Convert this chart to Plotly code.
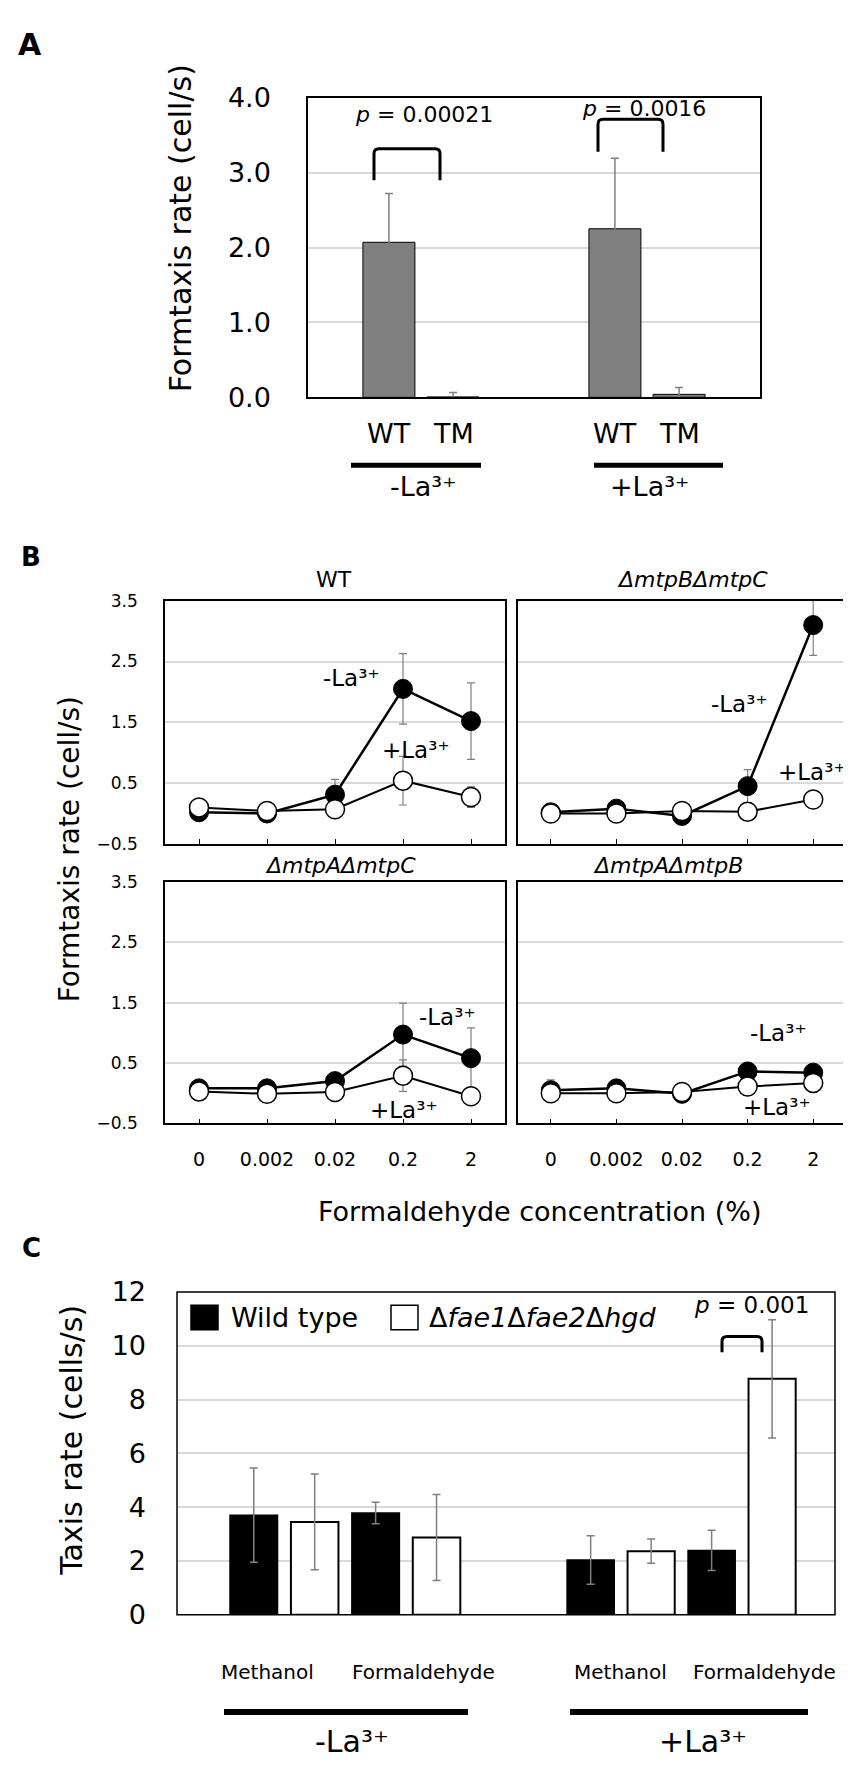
import plotly.graph_objects as go

W, H = 851, 1770


def px(x):
    return x / W


def py(y):
    return 1 - y / H


# ---------------- data ----------------
# panel A: formtaxis rate (cell/s)
a_groups = ["-La", "+La"]
a_wt = [2.07, 2.25]
a_wt_err = [0.65, 0.94]
a_tm = [0.005, 0.04]
a_tm_err = [0.06, 0.09]

# panel B: formaldehyde concentration (%)
conc = ["0", "0.002", "0.02", "0.2", "2"]
strains = ["WT", "ΔmtpBΔmtpC", "ΔmtpAΔmtpC", "ΔmtpAΔmtpB"]
b_minus = [
    [0.02, 0.00, 0.31, 2.05, 1.52],
    [0.02, 0.08, -0.04, 0.45, 3.10],
    [0.08, 0.08, 0.20, 0.97, 0.58],
    [0.05, 0.08, -0.01, 0.36, 0.34],
]
b_minus_err = [
    [0.05, 0.08, 0.25, 0.58, 0.63],
    [0.03, 0.04, 0.03, 0.27, 0.50],
    [0.03, 0.03, 0.04, 0.52, 0.50],
    [0.17, 0.04, 0.03, 0.05, 0.04],
]
b_plus = [
    [0.10, 0.04, 0.07, 0.54, 0.27],
    [0.00, 0.00, 0.04, 0.03, 0.23],
    [0.03, -0.01, 0.02, 0.29, -0.05],
    [0.00, 0.00, 0.02, 0.11, 0.17],
]
b_plus_err = [
    [0.05, 0.05, 0.05, 0.40, 0.17],
    [0.02, 0.02, 0.03, 0.03, 0.05],
    [0.03, 0.03, 0.03, 0.26, 0.04],
    [0.02, 0.02, 0.02, 0.04, 0.04],
]

# panel C: taxis rate (cells/s)
c_subs = ["Methanol", "Formaldehyde"]
c_wt_minus = [3.70, 3.78]
c_wt_minus_err = [1.75, 0.40]
c_mut_minus = [3.45, 2.87]
c_mut_minus_err = [1.78, 1.60]
c_wt_plus = [2.03, 2.39]
c_wt_plus_err = [0.90, 0.75]
c_mut_plus = [2.36, 8.77]
c_mut_plus_err = [0.45, 2.20]

FONT = "DejaVu Sans"
GRID = "#d9d9d9"
ERR = "#7f7f7f"

fig = go.Figure()

# ---------------- panel A ----------------
a_w, a_off = 0.23, 0.142
for vals, errs, shift in [(a_wt, a_wt_err, -a_off), (a_tm, a_tm_err, a_off)]:
    fig.add_trace(go.Bar(
        x=a_groups, y=vals, width=a_w, offset=shift - a_w / 2,
        marker=dict(color="#808080", line=dict(color="black", width=1)),
        error_y=dict(type="data", array=errs, color=ERR, thickness=1.5, width=4),
        xaxis="x", yaxis="y", showlegend=False,
    ))

# ---------------- panel B ----------------
for i in range(4):
    ax = str(i + 2)
    fig.add_trace(go.Scatter(
        x=conc, y=b_minus[i], mode="lines+markers",
        line=dict(color="black", width=2.5),
        marker=dict(size=19, color="black", line=dict(color="black", width=1)),
        error_y=dict(type="data", array=b_minus_err[i], color=ERR, thickness=1.2, width=4),
        xaxis="x" + ax, yaxis="y" + ax, showlegend=False,
    ))
    fig.add_trace(go.Scatter(
        x=conc, y=b_plus[i], mode="lines+markers",
        line=dict(color="black", width=2),
        marker=dict(size=19, color="white", line=dict(color="black", width=1.5)),
        error_y=dict(type="data", array=b_plus_err[i], color=ERR, thickness=1.2, width=4),
        xaxis="x" + ax, yaxis="y" + ax, showlegend=False,
    ))

# ---------------- panel C ----------------
c_w, c_off = 0.39, 0.25
for ax, wt, wt_e, mut, mut_e in [("6", c_wt_minus, c_wt_minus_err, c_mut_minus, c_mut_minus_err),
                                 ("7", c_wt_plus, c_wt_plus_err, c_mut_plus, c_mut_plus_err)]:
    fig.add_trace(go.Bar(
        x=c_subs, y=wt, width=c_w, offset=-c_off - c_w / 2,
        marker=dict(color="black", line=dict(color="black", width=1.5)),
        error_y=dict(type="data", array=wt_e, color=ERR, thickness=1.5, width=4),
        xaxis="x" + ax, yaxis="y" + ax, showlegend=False,
    ))
    fig.add_trace(go.Bar(
        x=c_subs, y=mut, width=c_w, offset=c_off - c_w / 2,
        marker=dict(color="white", line=dict(color="black", width=2)),
        error_y=dict(type="data", array=mut_e, color=ERR, thickness=1.5, width=4),
        xaxis="x" + ax, yaxis="y" + ax, showlegend=False,
    ))

# ---------------- axes ----------------
def box_axis(**kw):
    d = dict(showline=True, mirror=True, linecolor="black", linewidth=1.5,
             zeroline=False, ticks="", fixedrange=True)
    d.update(kw)
    return d


layout_axes = {}
# panel A
layout_axes["xaxis"] = box_axis(domain=[px(300), px(752)], anchor="y", range=[-0.5, 1.5],
                                showticklabels=False, showgrid=False)
layout_axes["yaxis"] = box_axis(domain=[py(380), py(75)], anchor="x", range=[0, 4], dtick=1,
                                tickformat=".1f", showgrid=True, gridcolor=GRID, gridwidth=1.5,
                                tickfont=dict(size=27), ticklabelstandoff=30)
# panel B
b_x = [(157, 497), (510, 838), (157, 497), (510, 838)]
b_y = [(587, 834.5), (587, 834.5), (873, 1119), (873, 1119)]
for i in range(4):
    n = str(i + 2)
    layout_axes["xaxis" + n] = box_axis(
        domain=[px(b_x[i][0]), px(b_x[i][1])], anchor="y" + n, range=[-0.5, 4.5],
        showgrid=False, ticks="inside", ticklen=5, tickcolor="black",
        showticklabels=i >= 2, tickfont=dict(size=19), ticklabelstandoff=18)
    layout_axes["yaxis" + n] = box_axis(
        domain=[py(b_y[i][1]), py(b_y[i][0])], anchor="x" + n, range=[-0.5, 3.5],
        tickvals=[-0.5, 0.5, 1.5, 2.5, 3.5], showgrid=True, gridcolor=GRID, gridwidth=1.5,
        showticklabels=i in (0, 2), tickfont=dict(size=17), ticklabelstandoff=22)
# panel C
c_x = [(169, 498, [-0.88, 1.82]), (498, 827, [-0.95, 1.77])]
for j, (x0, x1, rng) in enumerate(c_x):
    n = str(j + 6)
    layout_axes["xaxis" + n] = box_axis(
        domain=[px(x0), px(x1)], anchor="y" + n, range=rng, showline=False,
        showgrid=False, showticklabels=False)
    layout_axes["yaxis" + n] = box_axis(
        domain=[py(1619), py(1290.6)], anchor="x" + n, range=[0, 12], dtick=2,
        showline=False, showgrid=True, gridcolor=GRID, gridwidth=1.5,
        showticklabels=j == 0, tickfont=dict(size=27), ticklabelstandoff=30)


# ---------------- annotations ----------------
def note(text, x, y, size, weight="normal", style="normal", **kw):
    d = dict(text=text, x=px(x), y=py(y), xref="paper", yref="paper", showarrow=False,
             font=dict(size=size, color="black", family=FONT, weight=weight, style=style),
             xanchor="center", yanchor="middle")
    d.update(kw)
    return d


la_minus = "-La³⁺"
la_plus = "+La³⁺"
notes = [
    note("A", 22, 21, 30, weight="bold"),
    note("B", 23, 542, 26, weight="bold"),
    note("C", 23, 1246, 26, weight="bold"),
    # panel A
    note("Formtaxis rate (cell/s)", 172, 208, 30, textangle=-90),
    note("<i>p</i> = 0.00021", 416, 92, 22),
    note("<i>p</i> = 0.0016", 636, 86, 22),
    note(la_minus, 415, 471, 27),
    note(la_plus, 641, 471, 27),
    # panel B
    note("Formtaxis rate (cell/s)", 61, 840, 28, textangle=-90),
    note("Formaldehyde concentration (%)", 532, 1209, 27),
    note(la_minus, 343, 666, 23), note(la_plus, 408, 739, 23),
    note(la_minus, 731, 692, 23), note(la_plus, 804, 761, 23),
    note(la_minus, 439, 1011, 23), note(la_plus, 396, 1105, 23),
    note(la_minus, 770, 1027, 23), note(la_plus, 769, 1102, 23),
    # panel C
    note("Taxis rate (cells/s)", 64, 1442, 30, textangle=-90),
    note("Wild type", 221, 1317, 27, xanchor="left"),
    note("Δ<i>fae1</i>Δ<i>fae2</i>Δ<i>hgd</i>", 419, 1317, 27, xanchor="left"),
    note("<i>p</i> = 0.001", 743, 1304, 23),
    note(la_minus, 344, 1748, 30),
    note(la_plus, 695, 1748, 30),
]

# WT / TM labels under panel A bars
for gi, g in enumerate(a_groups):
    for lab, shift in [("WT", -a_off), ("TM", a_off)]:
        notes.append(dict(text=lab, x=gi + shift, y=py(417), xref="x", yref="paper",
                          showarrow=False, font=dict(size=27, color="black", family=FONT),
                          xanchor="center", yanchor="middle"))

# panel B strain titles (mutants in italics)
b_titles = [(326, 565), (684, 565), (332, 857), (660, 857)]
for i, (tx, ty) in enumerate(b_titles):
    notes.append(note(strains[i], tx, ty, 22, style="normal" if i == 0 else "italic"))

# panel C category labels (placed as in the original, not centred on the pairs)
c_label_x = [(259, 415), (612, 756)]
for xs in c_label_x:
    for lab, lx in zip(c_subs, xs):
        notes.append(note(lab, lx, 1677, 20))


# ---------------- shapes ----------------
def bracket(x0, x1, ytop, ybot, r=5):
    path = (f"M{px(x0)},{py(ybot)} L{px(x0)},{py(ytop + r)} "
            f"Q{px(x0)},{py(ytop)} {px(x0 + r)},{py(ytop)} "
            f"L{px(x1 - r)},{py(ytop)} Q{px(x1)},{py(ytop)} {px(x1)},{py(ytop + r)} "
            f"L{px(x1)},{py(ybot)}")
    return dict(type="path", path=path, xref="paper", yref="paper",
                line=dict(color="black", width=3))


def hline(x0, x1, y, w):
    return dict(type="line", x0=px(x0), x1=px(x1), y0=py(y), y1=py(y),
                xref="paper", yref="paper", line=dict(color="black", width=w))


def rect(x0, x1, y0, y1, fill, w=1.5):
    return dict(type="rect", x0=px(x0), x1=px(x1), y0=py(y1), y1=py(y0),
                xref="paper", yref="paper", fillcolor=fill,
                line=dict(color="black", width=w))


shapes = [
    bracket(366, 432, 127, 159),
    bracket(590, 655, 97, 130),
    hline(343, 473, 449, 5),
    hline(586, 715, 449, 5),
    # panel C frame and legend swatches
    dict(type="rect", x0=px(169), x1=px(827), y0=py(1619), y1=py(1290.6),
         xref="paper", yref="paper", line=dict(color="black", width=1.5), layer="above"),
    rect(183, 210, 1304, 1329, "black"),
    rect(383, 410, 1304, 1329, "white"),
    bracket(714, 754, 1336, 1352),
    hline(216, 460, 1718, 6),
    hline(562, 800, 1718, 6),
]

fig.update_layout(
    width=W, height=H,
    margin=dict(l=0, r=0, t=0, b=0),
    paper_bgcolor="white", plot_bgcolor="white",
    font=dict(family=FONT, color="black", size=20),
    barmode="overlay",
    annotations=notes,
    shapes=shapes,
    **layout_axes,
)

fig.write_html("out.html")
